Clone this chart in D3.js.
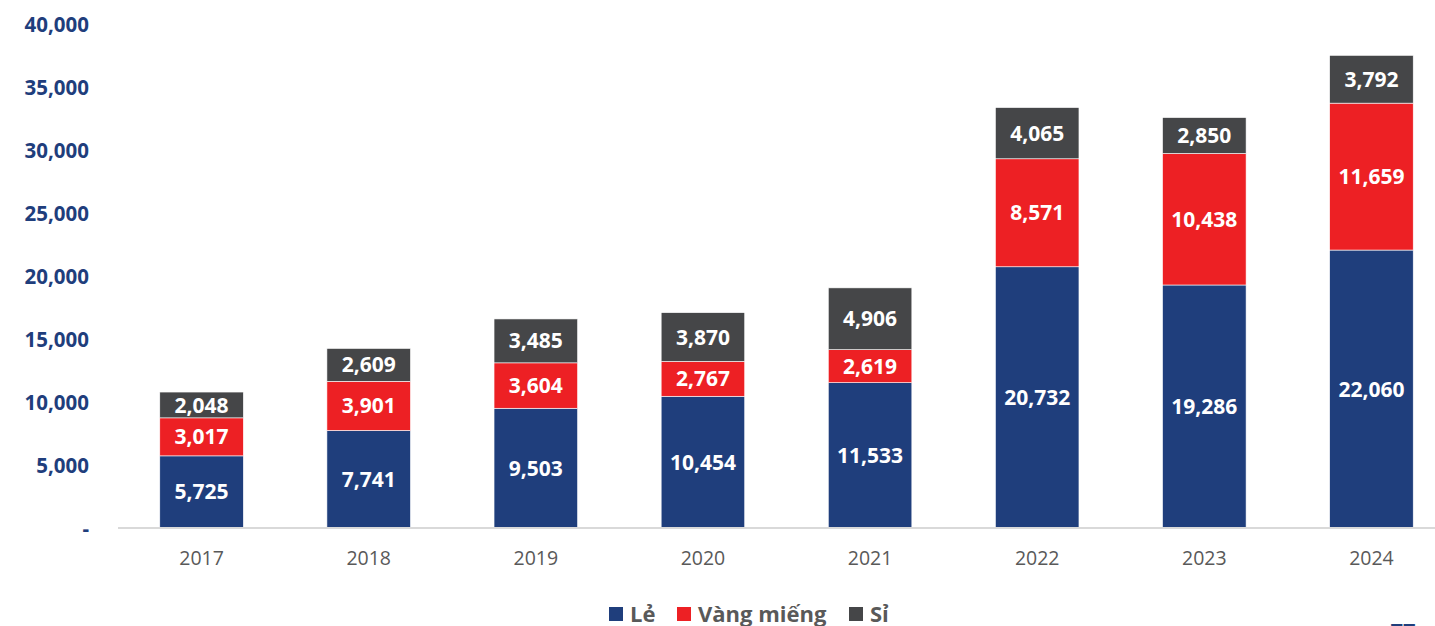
<!DOCTYPE html>
<html>
<head>
<meta charset="utf-8">
<script src="https://cdn.jsdelivr.net/npm/d3@7"></script>
<style>
  html, body { margin: 0; padding: 0; background: #ffffff; }
  svg { display: block; }
  text { font-family: "Open Sans", "Noto Sans", sans-serif; }
</style>
</head>
<body>
<svg id="chart" width="1435" height="626"></svg>
<script>
// Sales volume by channel, per year
const years = ["2017", "2018", "2019", "2020", "2021", "2022", "2023", "2024"];
const le = [5725, 7741, 9503, 10454, 11533, 20732, 19286, 22060];
const vangMieng = [3017, 3901, 3604, 2767, 2619, 8571, 10438, 11659];
const si = [2048, 2609, 3485, 3870, 4906, 4065, 2850, 3792];
const seriesNames = ["Lẻ", "Vàng miếng", "Sỉ"];
const yTicks = [0, 5000, 10000, 15000, 20000, 25000, 30000, 35000, 40000];

const colors = ["#1f3e7c", "#ed2024", "#454648"];

const svg = d3.select("#chart");

const x = d3.scaleBand().domain(years).range([118, 1455]).paddingInner(0.5).paddingOuter(0.25);
const y = d3.scaleLinear().domain([0, 40000]).range([528, 24]);

const rows = years.map((yr, i) => ({ year: yr, s0: le[i], s1: vangMieng[i], s2: si[i] }));
const stack = d3.stack().keys(["s0", "s1", "s2"]);
const layers = stack(rows);

// y axis labels (no line, no ticks)
const fmt = d3.format(",");
const yAxis = d3.axisLeft(y).tickValues(yTicks).tickSize(0).tickPadding(0)
  .tickFormat(d => d === 0 ? "-" : fmt(d));
const yg = svg.append("g").attr("transform", "translate(89,0)").call(yAxis);
yg.select(".domain").remove();
yg.selectAll("text")
  .attr("fill", "#1f3e7c")
  .style("font-size", "20.5px")
  .style("font-weight", "700")
  .attr("dy", "0.35em");

// bars
const layerG = svg.append("g").selectAll("g").data(layers).join("g")
  .attr("fill", (d, i) => colors[i]);

layerG.selectAll("rect").data(d => d).join("rect")
  .attr("x", d => x(d.data.year))
  .attr("width", x.bandwidth())
  .attr("y", d => y(d[1]))
  .attr("height", d => y(d[0]) - y(d[1]))
  .attr("stroke", "#ffffff")
  .attr("stroke-width", 0.6);

// value labels centred in each segment
layerG.selectAll("text").data(d => d).join("text")
  .attr("x", d => x(d.data.year) + x.bandwidth() / 2)
  .attr("y", d => (y(d[0]) + y(d[1])) / 2)
  .attr("dy", "0.36em")
  .attr("text-anchor", "middle")
  .attr("fill", "#ffffff")
  .style("font-size", "21px")
  .style("font-weight", "700")
  .text(d => fmt(d[1] - d[0]));

// x axis
const xAxis = d3.axisBottom(x).tickSize(0).tickPadding(23);
const xg = svg.append("g").attr("transform", "translate(0,528)").call(xAxis);
xg.select(".domain").attr("stroke", "#d9d9d9").attr("stroke-width", 2)
  .attr("d", "M118,0H1435");
xg.selectAll("text")
  .attr("fill", "#595959")
  .style("font-size", "19.5px")
  .style("font-weight", "400");

// legend
const legendItems = [
  { name: seriesNames[0], color: colors[0], x: 609 },
  { name: seriesNames[1], color: colors[1], x: 677 },
  { name: seriesNames[2], color: colors[2], x: 849 }
];
const lg = svg.append("g");
legendItems.forEach(it => {
  lg.append("rect").attr("x", it.x).attr("y", 607).attr("width", 14).attr("height", 14)
    .attr("fill", it.color);
  lg.append("text").attr("x", it.x + 21).attr("y", 622)
    .attr("fill", "#595959")
    .style("font-size", "22px")
    .style("font-weight", "700")
    .text(it.name);
});

// page number at the lower edge
svg.append("text").attr("x", 1403).attr("y", 639).attr("text-anchor", "middle")
  .attr("fill", "#1f3e7c").style("font-size", "22px").style("font-weight", "700")
  .text("77");
</script>
</body>
</html>
